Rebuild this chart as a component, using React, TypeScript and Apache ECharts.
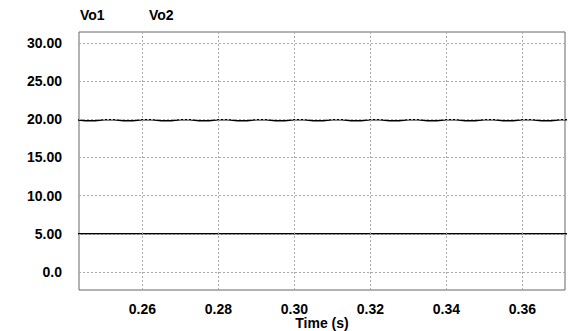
import React, { useEffect, useRef } from "react";
import * as echarts from "echarts";

const seriesNames = ["Vo1", "Vo2"];

const times = [
  0.2425, 0.2450, 0.2475, 0.2500, 0.2525, 0.2550, 0.2575, 0.2600, 0.2625, 0.2650,
  0.2675, 0.2700, 0.2725, 0.2750, 0.2775, 0.2800, 0.2825, 0.2850, 0.2875, 0.2900,
  0.2925, 0.2950, 0.2975, 0.3000, 0.3025, 0.3050, 0.3075, 0.3100, 0.3125, 0.3150,
  0.3175, 0.3200, 0.3225, 0.3250, 0.3275, 0.3300, 0.3325, 0.3350, 0.3375, 0.3400,
  0.3425, 0.3450, 0.3475, 0.3500, 0.3525, 0.3550, 0.3575, 0.3600, 0.3625, 0.3650,
  0.3675, 0.3700, 0.3725,
];

const vo1 = [
  19.95, 19.82, 19.81, 19.94, 19.95, 19.82, 19.81, 19.94, 19.95, 19.82,
  19.81, 19.94, 19.95, 19.82, 19.81, 19.94, 19.95, 19.82, 19.81, 19.94,
  19.95, 19.82, 19.81, 19.94, 19.95, 19.82, 19.81, 19.94, 19.95, 19.82,
  19.81, 19.94, 19.95, 19.82, 19.81, 19.94, 19.95, 19.82, 19.81, 19.94,
  19.95, 19.82, 19.81, 19.94, 19.95, 19.82, 19.81, 19.94, 19.95, 19.82,
  19.81, 19.94, 19.95,
];

const vo2 = [
  5.0, 5.0, 5.0, 5.0, 5.0, 5.0, 5.0, 5.0, 5.0, 5.0,
  5.0, 5.0, 5.0, 5.0, 5.0, 5.0, 5.0, 5.0, 5.0, 5.0,
  5.0, 5.0, 5.0, 5.0, 5.0, 5.0, 5.0, 5.0, 5.0, 5.0,
  5.0, 5.0, 5.0, 5.0, 5.0, 5.0, 5.0, 5.0, 5.0, 5.0,
  5.0, 5.0, 5.0, 5.0, 5.0, 5.0, 5.0, 5.0, 5.0, 5.0,
  5.0, 5.0, 5.0,
];

const yTicks = [0, 5, 10, 15, 20, 25, 30];
const xTicks = [0.26, 0.28, 0.3, 0.32, 0.34, 0.36];

const FONT = "Liberation Sans, Arial, sans-serif";

export default function App() {
  const ref = useRef<HTMLDivElement>(null);
  useEffect(() => {
    if (!ref.current) return;
    const chart = echarts.init(ref.current, null, { renderer: "svg" });
    const gridLines = [
      ...yTicks.map((v) => ({ yAxis: v })),
      ...xTicks.map((v) => ({ xAxis: v })),
    ];
    chart.setOption({
      animation: false,
      backgroundColor: "#ffffff",
      grid: {
        left: 79,
        top: 32,
        width: 486,
        height: 258,
        show: true,
        outerBoundsMode: "none",
        containLabel: false,
        borderColor: "#666666",
        borderWidth: 1,
        backgroundColor: "transparent",
      },
      xAxis: {
        type: "value",
        min: 0.2433,
        max: 0.3712,
        name: "Time (s)",
        nameLocation: "middle",
        nameGap: 26,
        nameMoveOverlap: false,
        nameTextStyle: { fontFamily: FONT, fontWeight: "bold", fontSize: 14, color: "#000" },
        axisLine: { show: false },
        axisTick: { show: false },
        splitLine: { show: false },
        axisLabel: {
          customValues: xTicks,
          formatter: (v: number) => v.toFixed(2),
          fontFamily: FONT,
          fontWeight: "bold",
          fontSize: 14,
          color: "#000",
          margin: 12,
        },
      },
      yAxis: {
        type: "value",
        min: -2.35,
        max: 31.43,
        axisLine: { show: false },
        axisTick: { show: false },
        splitLine: { show: false },
        axisLabel: {
          customValues: yTicks,
          formatter: (v: number) => (v === 0 ? "0.0" : v.toFixed(2)),
          fontFamily: FONT,
          fontWeight: "bold",
          fontSize: 14,
          color: "#000",
          margin: 17,
        },
      },
      graphic: seriesNames.map((n, i) => ({
        type: "text",
        x: 80 + i * 69,
        y: 15,
        style: {
          text: n,
          font: `bold 14px ${FONT}`,
          fill: "#000",
          textVerticalAlign: "middle",
        },
      })),
      series: [
        {
          name: seriesNames[0],
          type: "line",
          data: times.map((t, i) => [t, vo1[i]]),
          showSymbol: false,
          lineStyle: { color: "#000", width: 1.5 },
          clip: true,
        },
        {
          name: seriesNames[1],
          type: "line",
          data: times.map((t, i) => [t, vo2[i]]),
          showSymbol: false,
          lineStyle: { color: "#000", width: 1.5 },
          clip: true,
          markLine: {
            silent: true,
            symbol: "none",
            label: { show: false },
            lineStyle: { color: "#aaaaaa", type: [2, 2], width: 1 },
            data: gridLines,
          },
        },
      ],
    });
    return () => chart.dispose();
  }, []);
  return (
    <div
      ref={ref}
      style={{ position: "absolute", left: 0, top: 0, width: 569, height: 331 }}
    />
  );
}
